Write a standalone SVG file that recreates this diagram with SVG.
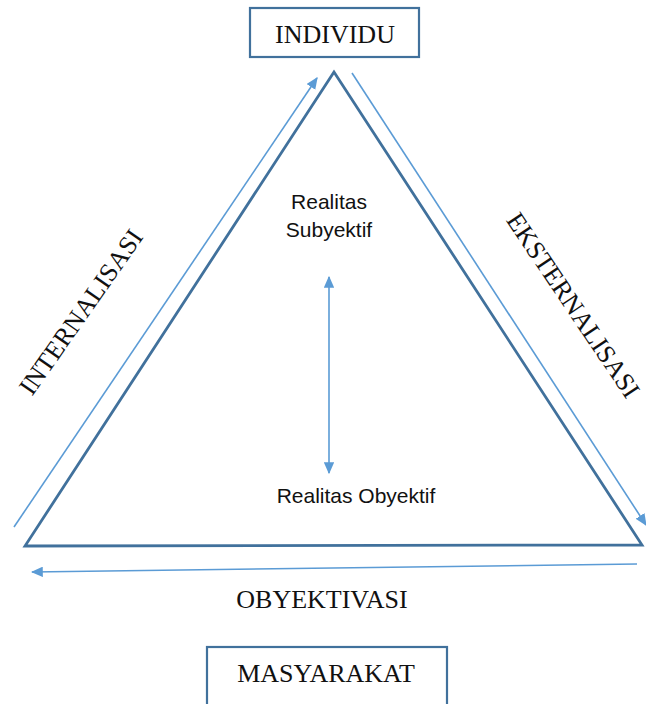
<svg xmlns="http://www.w3.org/2000/svg" width="646" height="704" viewBox="0 0 646 704">
<defs>
<style>
.box{fill:#fff;stroke:#41719C;stroke-width:2.2}
.tri{fill:none;stroke:#41719C;stroke-width:2.8;stroke-linejoin:miter}
.arr{fill:none;stroke:#5B9BD5;stroke-width:1.6}
.tnr{font-family:"Liberation Serif","Times New Roman",serif;font-size:26px;fill:#111}
.cal{font-family:"Liberation Sans",Arial,sans-serif;font-size:21px;fill:#111}
</style>
<marker id="ah" viewBox="0 0 10 10" refX="9" refY="5" markerWidth="7.5" markerHeight="6.5" markerUnits="strokeWidth" orient="auto-start-reverse" preserveAspectRatio="none">
<path d="M0,0 L10,5 L0,10 z" fill="#5B9BD5"/>
</marker>
</defs>
<rect width="646" height="704" fill="#fff"/>
<g id="triangle">
<polygon class="tri" points="334,72 25,546 642,545"/>
</g>
<g id="connectors">
<line class="arr" x1="14" y1="527" x2="317" y2="78" marker-end="url(#ah)"/>
<line class="arr" x1="352" y1="73" x2="646" y2="525" marker-end="url(#ah)"/>
<line class="arr" x1="637" y1="564" x2="32" y2="572" marker-end="url(#ah)"/>
<line class="arr" x1="329" y1="277" x2="329" y2="473" marker-start="url(#ah)" marker-end="url(#ah)"/>
</g>
<g id="individu">
<rect class="box" x="250" y="8" width="169" height="49"/>
<text class="tnr" x="335" y="43" text-anchor="middle">INDIVIDU</text>
</g>
<g id="masyarakat">
<rect class="box" x="207" y="647" width="240" height="70"/>
<text class="tnr" x="326" y="682" text-anchor="middle">MASYARAKAT</text>
</g>
<g id="subyektif">
<text class="cal" x="329" y="209" text-anchor="middle">Realitas</text>
<text class="cal" x="329" y="237" text-anchor="middle">Subyektif</text>
</g>
<g id="obyektif">
<text class="cal" x="356" y="503" text-anchor="middle">Realitas Obyektif</text>
</g>
<g id="labels">
<text class="tnr" text-anchor="middle" transform="translate(88,317) rotate(-55)">INTERNALISASI</text>
<text class="tnr" text-anchor="middle" transform="translate(566,310) rotate(56)">EKSTERNALISASI</text>
<text class="tnr" x="322" y="608" text-anchor="middle">OBYEKTIVASI</text>
</g>
</svg>
